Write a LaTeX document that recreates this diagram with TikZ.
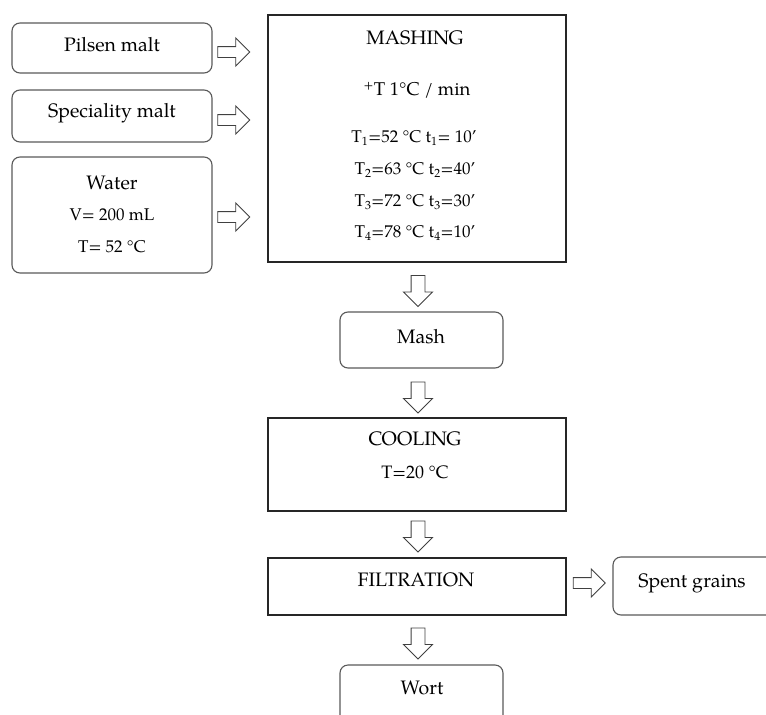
\documentclass[tikz,border=0pt]{standalone}
\usepackage{fontspec}
\setmainfont{TeX Gyre Pagella}
\usetikzlibrary{shapes.arrows}
\begin{document}
\begin{tikzpicture}[x=1pt,y=-1pt,
  rbox/.style={draw=black!65, line width=1.1pt, rounded corners=8pt, minimum width=#1, inner sep=0pt},
  sbox/.style={draw=black!85, line width=1.1pt, minimum width=298pt, inner sep=0pt},
  rarrow/.style={single arrow, draw=black!75, fill=white, line width=0.9pt,
    inner sep=5pt, single arrow head extend=8.5pt, minimum height=32pt},
  darrow/.style={rarrow, shape border rotate=270, inner sep=6.5pt,
    single arrow head extend=7.5pt, minimum height=31pt},
  lbl/.style={font=\fontsize{19.5}{22}\selectfont, inner sep=0pt},
  num/.style={font=\fontsize{17}{20}\selectfont, inner sep=0pt}]
\useasboundingbox (0,0) rectangle (766,715);
\clip (0,0) rectangle (766,715);
% boxes
\node[rbox=200pt, minimum height=50pt] (pilsen) at (112,48) {};
\node[rbox=200pt, minimum height=52pt] (special) at (112,116) {};
\node[rbox=200pt, minimum height=116pt] (water) at (112,215) {};
\node[sbox, minimum height=247pt] (mashing) at (417,138.5) {};
\node[rbox=163pt, minimum height=56pt] (mash) at (421.5,340) {};
\node[sbox, minimum height=93pt] (cooling) at (417,464.5) {};
\node[sbox, minimum height=57pt] (filtration) at (417,586.5) {};
\node[rbox=177pt, minimum height=58pt] (spent) at (701.5,586) {};
\node[rbox=163pt, minimum height=75pt] (wort) at (421.5,702.5) {};
% texts
\node[lbl] (tpilsen) at (112,45) {Pilsen malt};
\node[lbl] (tspecial) at (112,113) {Speciality malt};
\node[lbl] (twater1) at (112,183) {Water};
\node[num] (twater2) at (112,215) {V= 200 mL};
\node[num] (twater3) at (112,247) {T= 52 °C};
\node[lbl] (tmash0) at (415,38) {MASHING};
\node[num, font=\fontsize{18.5}{20}\selectfont] (tmash1) at (417,90) {\textsuperscript{+}T 1°C / min};
\node[num] (tmash2) at (414,138) {T\textsubscript{1}=52 °C t\textsubscript{1}= 10’};
\node[num] (tmash3) at (415,170) {T\textsubscript{2}=63 °C t\textsubscript{2}=40’};
\node[num] (tmash4) at (415,202) {T\textsubscript{3}=72 °C t\textsubscript{3}=30’};
\node[num] (tmash5) at (415,233) {T\textsubscript{4}=78 °C t\textsubscript{4}=10’};
\node[lbl] (tmash) at (421,337) {Mash};
\node[lbl] (tcool1) at (415,439) {COOLING};
\node[num, font=\fontsize{18}{20}\selectfont] (tcool2) at (415,472) {T=20 °C};
\node[lbl] (tfilt) at (416,580) {FILTRATION};
\node[lbl] (tspent) at (692,583) {Spent grains};
\node[lbl] (twort) at (422,688) {Wort};
% block arrows
\node[rarrow] (a1) at (231,52) {};
\node[rarrow] (a2) at (231,120) {};
\node[rarrow] (a3) at (231,217) {};
\node[darrow] (a4) at (418,287.5) {};
\node[darrow] (a5) at (418,394) {};
\node[darrow] (a6) at (418,533) {};
\node[rarrow] (a7) at (586.5,583) {};
\node[darrow] (a8) at (418,640) {};
\end{tikzpicture}
\end{document}
